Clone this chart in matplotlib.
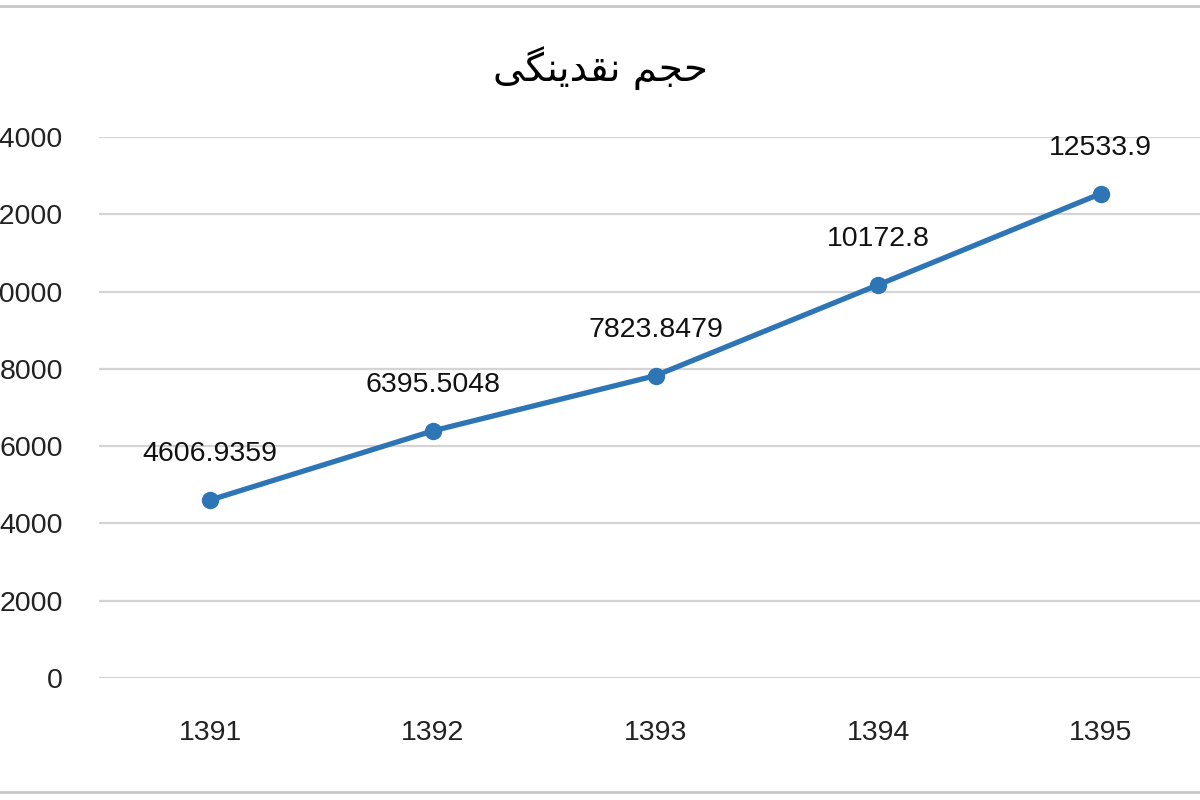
import matplotlib
matplotlib.use('Agg')
import matplotlib.pyplot as plt
from matplotlib.lines import Line2D

# داده ها
years = ['1391', '1392', '1393', '1394', '1395']
values = [4606.9359, 6395.5048, 7823.8479, 10172.8, 12533.9]
value_labels = ['4606.9359', '6395.5048', '7823.8479', '10172.8', '12533.9']
yticks = [0, 2000, 4000, 6000, 8000, 10000, 12000, 14000]

# title "حجم نقدینگی" in presentation forms, visual order (no shaping in matplotlib)
title = '\uFEF0\uFB95\uFEE8\uFEF3\uFEAA\uFED8\uFEE7 \uFEE2\uFEA0\uFEA3'

blue = '#2E75B6'
grid_col = '#d4d4d4'

fig = plt.figure(figsize=(12, 8), dpi=100)
ax = fig.add_axes([0.0825, 0.1525, 0.9275, 0.67625])

x = list(range(1, len(years) + 1))
ax.plot(x, values, color=blue, lw=3.8, marker='o', ms=11.5, zorder=3)

for xi, v, lab in zip(x, values, value_labels):
    ax.annotate(lab, (xi, v), xytext=(0, 33), textcoords='offset points',
                ha='center', va='center', fontsize=20.5,
                family='Liberation Sans', color='#111111')

ax.set_xlim(0.5, 5.5)
ax.set_ylim(0, 14000)
ax.set_xticks(x)
ax.set_xticklabels(years)
ax.set_yticks(yticks)
ax.set_yticklabels([str(t) for t in yticks])
ax.tick_params(length=0, labelsize=20.5, labelcolor='#222222')
ax.tick_params(axis='y', pad=26)
ax.tick_params(axis='x', pad=30)
for t in ax.get_xticklabels() + ax.get_yticklabels():
    t.set_family('Liberation Sans')

ax.grid(axis='y', color=grid_col, lw=1.6)
ax.set_axisbelow(True)
for s in ax.spines.values():
    s.set_visible(False)

fig.text(0.5, 0.915, title, ha='center', va='center', fontsize=28,
         family=['DejaVu Sans'], color='#000000')

# خطوط حاشیه بالا و پایین
fig.add_artist(Line2D([0, 1], [0.9925, 0.9925], color='#c8c8c8', lw=2,
                      transform=fig.transFigure))
fig.add_artist(Line2D([0, 1], [0.01, 0.01], color='#c8c8c8', lw=2,
                      transform=fig.transFigure))

fig.savefig('out.png', dpi=100)
